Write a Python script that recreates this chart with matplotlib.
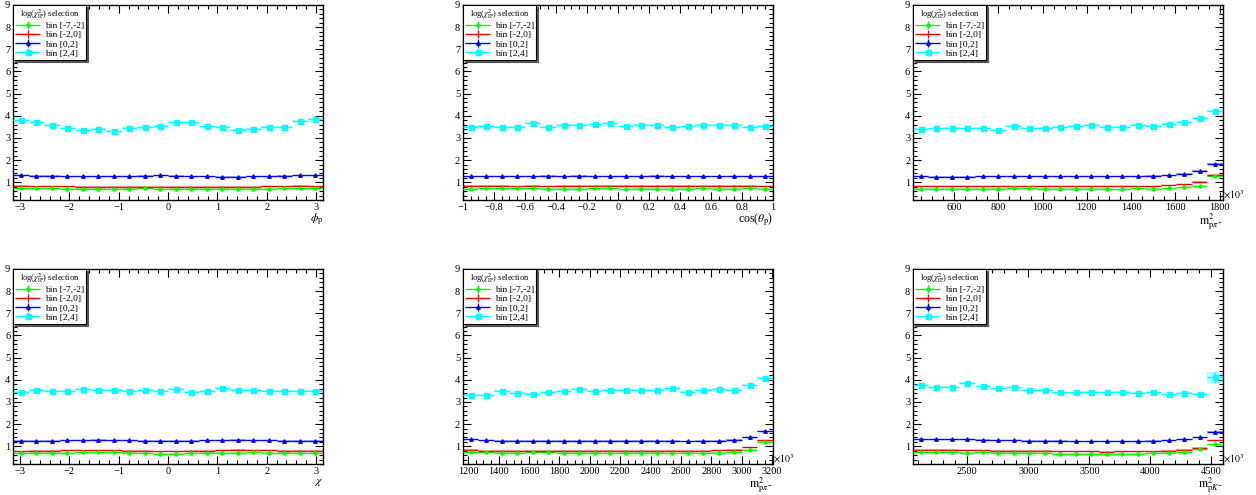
import numpy as np
import matplotlib
matplotlib.use("Agg")
import matplotlib.pyplot as plt
from matplotlib.ticker import MultipleLocator, FuncFormatter
from matplotlib.container import ErrorbarContainer
from matplotlib.legend_handler import HandlerErrorbar

plt.rcParams['font.family'] = ['Liberation Serif', 'DejaVu Serif']
plt.rcParams['mathtext.fontset'] = 'stix'

# --- data: 20 bins per panel, values per chi2 selection bin ---
labels = ['bin [-7,-2]', 'bin [-2,0]', 'bin [0,2]', 'bin [2,4]']
colors = ['#00ff00', '#ff0000', '#0000ff', '#00ffff']
markers = ['o', '', '^', 's']
msizes = [2.2, 0, 2.5, 3.6]
errs = [0.025, 0.025, 0.02, 0.04]

# phi_p
phi_x = (-np.pi, np.pi)
phi_green = [0.73, 0.72, 0.72, 0.71, 0.70, 0.70, 0.69, 0.70, 0.72, 0.69, 0.70, 0.71, 0.70, 0.70, 0.70, 0.71, 0.71, 0.72, 0.73, 0.76]
phi_red = [0.84, 0.82, 0.81, 0.81, 0.80, 0.79, 0.79, 0.80, 0.80, 0.80, 0.79, 0.80, 0.79, 0.79, 0.79, 0.80, 0.81, 0.82, 0.83, 0.82]
phi_blue = [1.32, 1.30, 1.29, 1.28, 1.27, 1.27, 1.26, 1.26, 1.29, 1.31, 1.30, 1.28, 1.27, 1.25, 1.25, 1.27, 1.28, 1.30, 1.31, 1.32]
phi_cyan = [3.80, 3.71, 3.60, 3.46, 3.37, 3.41, 3.33, 3.46, 3.50, 3.56, 3.73, 3.70, 3.52, 3.49, 3.37, 3.41, 3.50, 3.51, 3.78, 3.84]

# cos(theta_p)
cos_x = (-1.0, 1.0)
cos_green = [0.71, 0.72, 0.72, 0.72, 0.72, 0.70, 0.70, 0.71, 0.72, 0.72, 0.69, 0.71, 0.70, 0.71, 0.71, 0.72, 0.71, 0.71, 0.72, 0.71]
cos_red = [0.83, 0.83, 0.83, 0.82, 0.83, 0.82, 0.83, 0.83, 0.83, 0.84, 0.83, 0.83, 0.83, 0.83, 0.83, 0.83, 0.83, 0.83, 0.83, 0.82]
cos_blue = [1.27, 1.27, 1.28, 1.28, 1.28, 1.29, 1.28, 1.29, 1.28, 1.28, 1.27, 1.28, 1.29, 1.28, 1.28, 1.27, 1.28, 1.28, 1.27, 1.27]
cos_cyan = [3.49, 3.54, 3.48, 3.48, 3.66, 3.48, 3.57, 3.57, 3.61, 3.66, 3.54, 3.57, 3.58, 3.48, 3.52, 3.57, 3.57, 3.58, 3.48, 3.54]

# m2 p pi+
mpp_x = (415, 1815)
mpp_green = [0.71, 0.70, 0.70, 0.70, 0.71, 0.70, 0.73, 0.72, 0.70, 0.70, 0.71, 0.71, 0.70, 0.69, 0.72, 0.71, 0.72, 0.77, 0.84, 1.28]
mpp_red = [0.82, 0.81, 0.82, 0.82, 0.82, 0.82, 0.82, 0.82, 0.82, 0.82, 0.82, 0.81, 0.82, 0.81, 0.82, 0.82, 0.86, 0.90, 1.02, 1.33]
mpp_blue = [1.27, 1.25, 1.25, 1.25, 1.27, 1.27, 1.28, 1.27, 1.27, 1.28, 1.28, 1.27, 1.27, 1.27, 1.28, 1.30, 1.32, 1.38, 1.52, 1.84]
mpp_cyan = [3.42, 3.43, 3.46, 3.43, 3.46, 3.38, 3.55, 3.43, 3.47, 3.51, 3.55, 3.59, 3.50, 3.50, 3.59, 3.55, 3.64, 3.74, 3.92, 4.20]

# chi
chi_x = (-np.pi, np.pi)
chi_green = [0.68, 0.70, 0.70, 0.71, 0.73, 0.73, 0.72, 0.70, 0.68, 0.67, 0.67, 0.69, 0.70, 0.71, 0.71, 0.72, 0.71, 0.70, 0.69, 0.68]
chi_red = [0.78, 0.79, 0.80, 0.81, 0.82, 0.82, 0.81, 0.80, 0.79, 0.78, 0.78, 0.79, 0.80, 0.82, 0.83, 0.82, 0.81, 0.80, 0.79, 0.79]
chi_blue = [1.25, 1.25, 1.26, 1.27, 1.28, 1.29, 1.28, 1.27, 1.26, 1.25, 1.25, 1.26, 1.27, 1.28, 1.29, 1.28, 1.27, 1.26, 1.25, 1.25]
chi_cyan = [3.46, 3.55, 3.49, 3.50, 3.59, 3.55, 3.55, 3.49, 3.55, 3.50, 3.58, 3.46, 3.50, 3.64, 3.55, 3.55, 3.50, 3.50, 3.49, 3.49]

# m2 p pi-
mpm_x = (1165, 3205)
mpm_green = [0.73, 0.72, 0.71, 0.71, 0.72, 0.72, 0.70, 0.70, 0.71, 0.69, 0.71, 0.70, 0.70, 0.69, 0.70, 0.69, 0.71, 0.76, 0.84, 1.21]
mpm_red = [0.83, 0.80, 0.80, 0.80, 0.80, 0.80, 0.80, 0.80, 0.80, 0.80, 0.80, 0.80, 0.79, 0.80, 0.79, 0.80, 0.81, 0.85, 0.95, 1.27]
mpm_blue = [1.32, 1.27, 1.26, 1.26, 1.26, 1.26, 1.26, 1.25, 1.26, 1.26, 1.25, 1.25, 1.25, 1.25, 1.24, 1.25, 1.25, 1.30, 1.40, 1.68]
mpm_cyan = [3.33, 3.33, 3.51, 3.41, 3.37, 3.45, 3.50, 3.59, 3.50, 3.54, 3.54, 3.54, 3.56, 3.63, 3.45, 3.54, 3.59, 3.56, 3.78, 4.08]

# m2 p K-
mpk_x = (2055, 4595)
mpk_green = [0.73, 0.73, 0.75, 0.70, 0.74, 0.71, 0.71, 0.70, 0.69, 0.67, 0.67, 0.67, 0.67, 0.66, 0.67, 0.68, 0.71, 0.72, 0.88, 1.10]
mpk_red = [0.84, 0.85, 0.84, 0.82, 0.81, 0.80, 0.79, 0.79, 0.79, 0.78, 0.78, 0.77, 0.76, 0.77, 0.78, 0.78, 0.80, 0.83, 0.94, 1.27]
mpk_blue = [1.31, 1.32, 1.31, 1.31, 1.29, 1.28, 1.27, 1.26, 1.25, 1.25, 1.24, 1.24, 1.23, 1.23, 1.24, 1.25, 1.27, 1.31, 1.42, 1.66]
mpk_cyan = [3.78, 3.66, 3.66, 3.84, 3.70, 3.61, 3.66, 3.52, 3.52, 3.43, 3.43, 3.45, 3.43, 3.46, 3.40, 3.43, 3.34, 3.39, 3.38, 4.11]
mpk_cyan_lasterr = 0.25

panels = [
    dict(rng=phi_x, ys=[phi_green, phi_red, phi_blue, phi_cyan], xlabel=r'$\phi_{\mathrm{p}}$',
         major=1, minor=0.2, scale=False),
    dict(rng=cos_x, ys=[cos_green, cos_red, cos_blue, cos_cyan], xlabel=r'cos($\theta_{\mathrm{p}}$)',
         major=0.2, minor=0.05, scale=False),
    dict(rng=mpp_x, ys=[mpp_green, mpp_red, mpp_blue, mpp_cyan], xlabel=r'$\mathrm{m}^2_{\mathrm{p}\pi^{+}}$',
         major=200, minor=50, scale=True),
    dict(rng=chi_x, ys=[chi_green, chi_red, chi_blue, chi_cyan], xlabel=r'$\chi$',
         major=1, minor=0.2, scale=False),
    dict(rng=mpm_x, ys=[mpm_green, mpm_red, mpm_blue, mpm_cyan], xlabel=r'$\mathrm{m}^2_{\mathrm{p}\pi^{-}}$',
         major=200, minor=50, scale=True),
    dict(rng=mpk_x, ys=[mpk_green, mpk_red, mpk_blue, mpk_cyan], xlabel=r'$\mathrm{m}^2_{\mathrm{p}K^{-}}$',
         major=500, minor=100, scale=True),
]

fig = plt.figure(figsize=(12.56, 4.95), dpi=100)
lefts = [0.0104, 0.3686, 0.7269]
bottoms = [0.596, 0.0626]
w, h = 0.2468, 0.394

fmt_g = FuncFormatter(lambda v, pos: ('%g' % round(v, 6)).replace('-', '\u2212'))

for i, p in enumerate(panels):
    ax = fig.add_axes([lefts[i % 3], bottoms[i // 3], w, h])
    lo, hi = p['rng']
    edges = np.linspace(lo, hi, 21)
    centers = 0.5 * (edges[:-1] + edges[1:])
    bw = edges[1] - edges[0]
    for k in range(4):
        y = np.array(p['ys'][k])
        e = np.full(20, errs[k])
        if i == 5 and k == 3:
            e[-1] = mpk_cyan_lasterr
        # light error band
        ax.bar(centers, 2 * e, bottom=y - e, width=bw, color=colors[k], alpha=0.3,
               linewidth=0, zorder=2)
        ax.errorbar(centers, y, xerr=bw / 2, yerr=e, fmt=markers[k] if markers[k] else 'none',
                    color=colors[k], ms=msizes[k], lw=1.0, elinewidth=1.0, capsize=0,
                    label=labels[k], zorder=3)
    ax.set_xlim(lo, hi)
    ax.set_ylim(0.2, 9)
    ax.yaxis.set_major_locator(MultipleLocator(1))
    ax.yaxis.set_minor_locator(MultipleLocator(0.2))
    ax.xaxis.set_major_locator(MultipleLocator(p['major']))
    ax.xaxis.set_minor_locator(MultipleLocator(p['minor']))
    ax.xaxis.set_major_formatter(fmt_g)
    ax.yaxis.set_major_formatter(FuncFormatter(lambda v, pos: f'{int(round(v))}' if v >= 1 else ''))
    ax.tick_params(which='both', direction='in', top=True, right=True, labelsize=7.5, pad=2)
    ax.tick_params(which='major', length=6, width=0.8)
    ax.tick_params(which='minor', length=3, width=0.8)
    for s in ax.spines.values():
        s.set_linewidth(1.0)
    ax.set_xlabel(p['xlabel'], loc='right', fontsize=8.5, labelpad=0)
    if p['scale']:
        ax.text(1.0, -0.005, r'$\times10^3$', transform=ax.transAxes, ha='left', va='bottom',
                fontsize=7)
    leg = ax.legend(loc='upper left', fontsize=6.8, title=r'log($\chi^2_{\mathrm{IP}}$) selection',
                    title_fontsize=6, frameon=True, fancybox=False, edgecolor='black',
                    borderaxespad=0.0, handlelength=2.6, labelspacing=0.05, borderpad=0.25,
                    shadow=dict(color='#555555', alpha=1.0, ox=1.5, oy=-1.5),
                    handletextpad=0.5,
                    handler_map={ErrorbarContainer: HandlerErrorbar(xerr_size=1.3, yerr_size=0.45)})
    leg.get_frame().set_linewidth(0.8)

fig.savefig('out.png', dpi=100)
